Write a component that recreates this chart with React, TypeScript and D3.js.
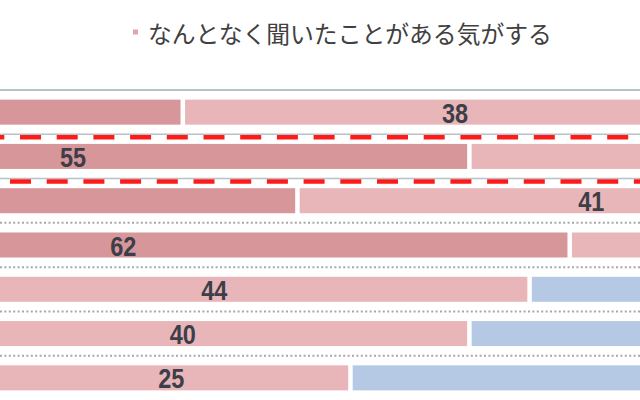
import React from 'react';
import * as d3 from 'd3';

// categories (row names sit off-canvas to the left in this crop)
const categories = ['項目1', '項目2', '項目3', '項目4', '項目5', '項目6', '項目7'];
// stacked shares, %
const knowWell = [35, 55, 43, 62, 15.2, 15, 21.7];
const heardOf = [38, 35, 41, 30, 44, 40, 25];
const notKnown = [27, 10, 16, 8, 40.8, 45, 53.3];
const seriesKeys = ['know', 'heard', 'not'];
const seriesNames = ['知っている', 'なんとなく聞いたことがある気がする', '知らない'];
const seriesColors = ['#d7969a', '#e8b6b8', '#b5c8e4'];
// rows followed by the red dashed divider
const dashedAfter = [0, 1];

const W = 640;
const H = 400;

const App: React.FC = () => {
  const x = d3.scaleLinear().domain([0, 100]).range([-321, 1112]);
  const y = d3.scaleBand<string>()
    .domain(categories)
    .range([90, 400])
    .paddingInner(0.435)
    .paddingOuter(0.2175);

  const rows = categories.map((c, i) => ({
    cat: c,
    know: knowWell[i],
    heard: heardOf[i],
    not: notKnown[i],
  }));
  const stacked = d3.stack<any>().keys(seriesKeys)(rows);

  const gap = 4.5;
  const bw = y.bandwidth();
  const half = (y.step() - bw) / 2;
  const topLine = (y(categories[0]) ?? 0) - half;
  const labelHalfWidth = 14;

  return (
    <svg width={W} height={H} style={{ position: 'absolute', left: 0, top: 0, background: '#fff' }}>
      {/* legend (only the middle item falls inside the crop) */}
      <rect x={133} y={29.5} width={5} height={5} fill="#e2a5aa" />
      <text
        x={148}
        y={32}
        dominantBaseline="central"
        fontFamily="'Noto Sans CJK JP', sans-serif"
        fontSize={23.8}
        fill="#404040"
      >
        {seriesNames[1]}
      </text>

      {/* top border */}
      <line x1={0} x2={W} y1={topLine} y2={topLine} stroke="#b7c2c6" strokeWidth={2} />

      {/* row dividers */}
      {categories.slice(0, -1).map((c, i) => {
        const yy = (y(c) ?? 0) + bw + half;
        if (dashedAfter.includes(i)) {
          return (
            <g key={c}>
              <line x1={0} x2={W} y1={yy} y2={yy} stroke="#b7c2c6" strokeWidth={1.5} />
              <line
                x1={0}
                x2={W}
                y1={yy + 3}
                y2={yy + 3}
                stroke="#ff1a1a"
                strokeWidth={4.5}
                strokeDasharray="21 15.7"
                strokeDashoffset={i === 0 ? 16.7 : 26.7}
              />
            </g>
          );
        }
        return (
          <line
            key={c}
            x1={0}
            x2={W}
            y1={yy}
            y2={yy}
            stroke="#a8a8a8"
            strokeWidth={2}
            strokeDasharray="2 2.4"
          />
        );
      })}

      {/* bars */}
      {stacked.map((s, si) => (
        <g key={s.key} fill={seriesColors[si]}>
          {s.map((d) => {
            const x0 = x(d[0]) + (si > 0 ? gap : 0);
            const x1 = x(d[1]);
            return (
              <rect
                key={d.data.cat}
                x={x0}
                y={y(d.data.cat)}
                width={Math.max(0, x1 - x0)}
                height={bw}
              />
            );
          })}
        </g>
      ))}

      {/* value labels (only those that reach into the visible crop) */}
      {stacked.map((s, si) => (
        <g key={s.key + '-lbl'}>
          {s
            .map((d) => {
              const x0 = x(d[0]) + (si > 0 ? gap : 0);
              return { d, cx: (x0 + x(d[1])) / 2 };
            })
            .filter(({ cx }) => cx + labelHalfWidth > 0 && cx - labelHalfWidth < W)
            .map(({ d, cx }) => (
              <text
                key={d.data.cat}
                transform={`translate(${cx},${(y(d.data.cat) ?? 0) + bw / 2 + 1}) scale(0.87,1)`}
                textAnchor="middle"
                dominantBaseline="central"
                fontFamily="'Liberation Sans', Arial, sans-serif"
                fontWeight="bold"
                fontSize={27}
                fill="#3d3e48"
              >
                {Math.round(d[1] - d[0])}
              </text>
            ))}
        </g>
      ))}
    </svg>
  );
};

export default App;
